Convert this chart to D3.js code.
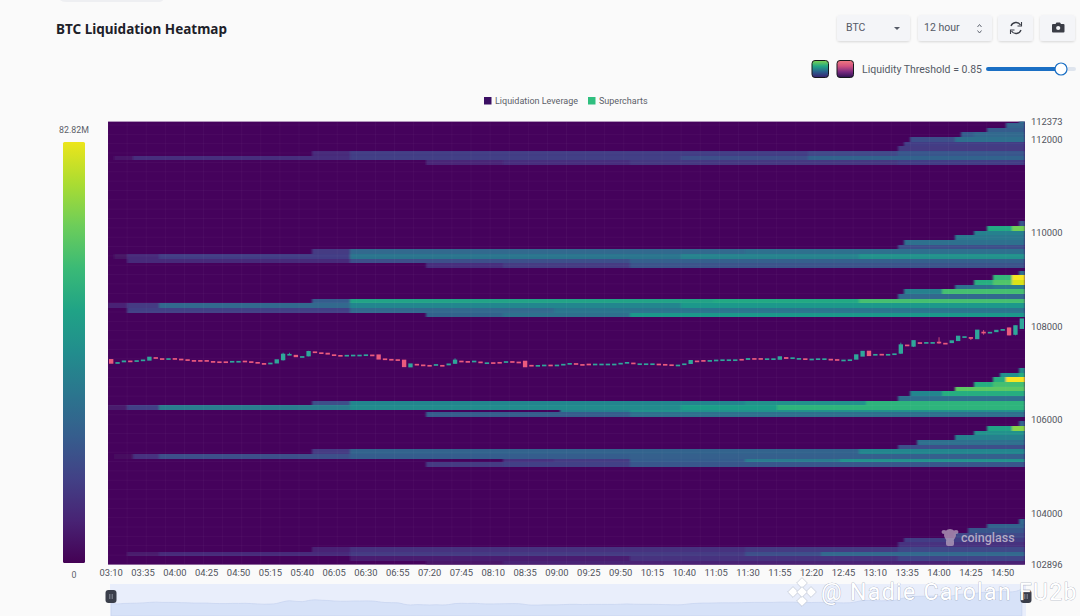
<html>
<head>
<meta charset="utf-8">
<style>
body { margin: 0; background: #fafafa; overflow: hidden; }
svg { display: block; font-family: Roboto, sans-serif; }
.tick text { font-family: Roboto, sans-serif; font-size: 9.4px; fill: #50535c; }
</style>
<script src="https://d3js.org/d3.v7.min.js"></script>
</head>
<body>
<svg id="chart" width="1080" height="616"></svg>
<script>
// tick labels
const xTickLabels = ["03:10","03:35","04:00","04:25","04:50","05:15","05:40","06:05","06:30","06:55","07:20","07:45","08:10","08:35","09:00","09:25","09:50","10:15","10:40","11:05","11:30","11:55","12:20","12:45","13:10","13:35","14:00","14:25","14:50"];
const yTickLabels = [112373,112000,110000,108000,106000,104000,102896];

// 5 min candles: mid price and signed body size (up > 0, down < 0)
const candleMid = [107237,107209,107237,107245,107252,107267,107295,107310,107295,107295,107295,107280,107273,107258,107258,107258,107237,107230,107230,107237,107237,107245,107230,107209,107194,107202,107237,107331,107387,107352,107337,107402,107438,107416,107402,107373,107359,107359,107373,107373,107380,107373,107331,107288,107280,107273,107194,107151,107172,107160,107151,107166,107151,107172,107230,107245,107237,107245,107224,107209,107209,107215,107224,107230,107224,107181,107145,107145,107160,107160,107160,107172,107187,107187,107172,107181,107181,107181,107181,107181,107194,107209,107194,107187,107187,107187,107181,107172,107166,107160,107181,107224,107245,107258,107258,107267,107273,107273,107273,107280,107288,107295,107295,107295,107295,107309,107309,107309,107301,107288,107288,107295,107295,107280,107273,107267,107273,107331,107401,107408,107386,107386,107386,107401,107502,107579,107622,107637,107643,107643,107643,107622,107658,107729,107765,107744,107814,107857,107857,107887,107921,107878,107908,108043];
const candleBody = [-100,25,40,-20,20,20,85,-35,-20,20,-25,-30,-20,-15,-15,-15,-15,-15,-15,20,20,-15,-20,-30,-15,15,90,140,20,-50,25,115,-25,-30,-40,-30,-30,35,15,15,15,-20,-110,-25,-20,-20,-160,85,-25,-20,-20,25,-20,40,90,-15,-15,15,-20,15,-20,-20,35,-25,-15,-140,-35,30,15,-15,15,25,30,-25,-15,-15,15,15,15,15,25,30,-35,15,15,15,-15,-20,-15,15,25,85,-20,-15,15,15,15,15,15,-20,40,-25,-25,15,15,75,-40,30,15,-30,15,15,15,-25,-25,15,15,115,125,-115,20,-25,20,15,200,-35,140,-20,15,15,-30,-25,60,115,20,-25,205,-30,25,50,15,-170,205,225];
// wicks: candle index, high, low
const candleWicks = [[27,107429,107260],[28,107429,107380],[31,107470,107350],[54,107309,107190],[124,107643,107400],[126,107686,107550],[130,107759,107620],[135,107760,107700],[137,107915,107814],[141,107965,107801],[142,108012,107800]];

// heatmap levels: lower price of the bin, then [first candle, value in M], value holds until next step
const levelsA = [
  [112343,[[143,30]]],
  [112243,[[141,26]]],
  [112143,[[138,24]]],
  [112043,[[134,24],[136,28]]],
  [111943,[[126,20],[133,30]]],
  [111843,[[125,15]]],
  [111743,[[124,14]]],
  [111643,[[32,10],[38,15],[110,18],[124,22]]],
  [111543,[[1,5],[4,11],[38,16],[90,20],[110,26]]],
  [111443,[[50,9],[62,11],[82,13],[124,15]]]
];
const levelsB = [
  [110143,[[143,22]]],
  [110043,[[138,50],[142,65]]],
  [109943,[[136,36]]],
  [109843,[[133,33]]],
  [109743,[[125,30]]],
  [109643,[[124,20]]],
  [109543,[[32,14],[38,28],[100,30]]],
  [109443,[[1,4],[3,10],[8,15],[38,32],[90,37],[118,42]]],
  [109343,[[3,10],[38,20],[82,25]]],
  [109243,[[50,11],[62,14],[82,21]]]
];
const levelsC = [
  [109085,[[143,30]]],
  [108985,[[139,55],[142,82]]],
  [108885,[[136,52],[139,60],[142,78]]],
  [108785,[[133,30],[139,34]]],
  [108685,[[125,36],[131,58]]],
  [108585,[[124,28]]],
  [108485,[[32,24],[38,48],[95,50],[118,58]]],
  [108385,[[0,8],[3,14],[8,28],[38,38],[90,44]]],
  [108285,[[3,16],[38,28],[70,32]]],
  [108185,[[50,26],[62,30],[82,44]]]
];
const levelsD = [
  [107004,[[143,40]]],
  [106904,[[140,42],[143,52]]],
  [106804,[[139,52],[141,82]]],
  [106704,[[136,52],[139,58]]],
  [106604,[[133,62]]],
  [106504,[[126,38],[131,52]]],
  [106404,[[124,30]]],
  [106304,[[32,20],[38,38],[100,42],[119,54]]],
  [106204,[[0,6],[3,16],[8,34],[38,40],[90,46],[105,54]]],
  [106104,[[71,36],[82,42]]],
  [106054,[[50,24],[82,30]]]
];
const levelsE = [
  [105862,[[143,26]]],
  [105762,[[138,48],[142,68]]],
  [105662,[[136,42]]],
  [105562,[[133,36]]],
  [105462,[[127,30]]],
  [105362,[[124,20]]],
  [105262,[[32,14],[38,26],[118,38]]],
  [105162,[[1,3],[4,12],[8,20],[38,24],[82,25]]],
  [105062,[[62,12],[70,14],[82,24],[100,34],[115,42]]],
  [104990,[[50,14],[62,16],[82,22]]]
];
const levelsF = [
  [103772,[[143,28]]],
  [103672,[[138,26]]],
  [103572,[[135,22]]],
  [103472,[[133,18]]],
  [103372,[[125,15]]],
  [103272,[[124,12]]],
  [103172,[[32,8],[38,12],[100,14],[124,18]]],
  [103072,[[3,6],[8,10],[38,14],[100,20],[112,28]]],
  [102972,[[38,7],[82,12],[124,17]]],
  [102872,[[50,5],[62,8]]]
];
const maxValue = 82.82;
const priceStep = 100;

const svg = d3.select("#chart");
const plot = {left: 108, right: 1025, top: 121.6, bottom: 564.6};

// every 5 minutes from 03:10
const fmt = d3.timeFormat("%H:%M");
const candleTimes = d3.range(candleMid.length).map(i => fmt(new Date(2025, 0, 1, 3, 10 + i * 5)));

const x = d3.scaleBand().domain(candleTimes).range([plot.left, plot.right]).padding(0);
const y = d3.scaleLinear().domain([102896, 112373]).range([plot.bottom, plot.top]);
const color = d3.scaleSequential(d3.interpolateViridis).domain([0, maxValue]);
const xEdge = i => i < candleTimes.length ? x(candleTimes[i]) : plot.right;

const defs = svg.append("defs");
defs.append("clipPath").attr("id", "plotClip").append("rect")
  .attr("x", plot.left).attr("y", plot.top)
  .attr("width", plot.right - plot.left).attr("height", plot.bottom - plot.top);

function gradient(id, stops) {
  const g = defs.append("linearGradient").attr("id", id).attr("x1", 0).attr("x2", 0).attr("y1", 0).attr("y2", 1);
  stops.forEach((s, i) => g.append("stop").attr("offset", i / (stops.length - 1)).attr("stop-color", s));
}
gradient("barGrad", d3.range(0, 1.001, 0.1).map(t => d3.interpolateViridis(0.97 * (1 - t))));
gradient("greenGrad", ["#7fd34e", "#22a884", "#2a5f8d", "#3b1f6e"]);
gradient("pinkGrad", ["#f07a80", "#d2527f", "#7a2a80", "#2c1250"]);
const soft = defs.append("filter").attr("id", "soft").attr("x", "-10%").attr("y", "-10%").attr("width", "120%").attr("height", "130%");
soft.append("feDropShadow").attr("dx", 0).attr("dy", 1).attr("stdDeviation", 1).attr("flood-color", "#000").attr("flood-opacity", 0.14);
defs.append("filter").attr("id", "blurCells").append("feGaussianBlur").attr("stdDeviation", "1 0.5");

// heatmap
svg.append("rect").attr("x", plot.left).attr("y", plot.top)
  .attr("width", plot.right - plot.left).attr("height", plot.bottom - plot.top)
  .attr("fill", "#45025c");

const allLevels = [].concat(levelsA, levelsB, levelsC, levelsD, levelsE, levelsF);
const cells = [];
allLevels.forEach(([price, steps]) => {
  steps.forEach(([start, value], i) => {
    const end = i + 1 < steps.length ? steps[i + 1][0] : candleTimes.length;
    cells.push({price, start, end, value});
  });
});
const heat = svg.append("g").attr("clip-path", "url(#plotClip)").append("g").attr("filter", "url(#blurCells)");
heat.selectAll("rect").data(cells).enter().append("rect")
  .attr("x", d => xEdge(d.start))
  .attr("width", d => xEdge(d.end) - xEdge(d.start))
  .attr("y", d => y(d.price + priceStep))
  .attr("height", d => y(d.price) - y(d.price + priceStep))
  .attr("fill", d => color(d.value))
  .attr("shape-rendering", "crispEdges");

// faint cell grid
const grid = svg.append("g").attr("clip-path", "url(#plotClip)").attr("stroke", "#fff").attr("stroke-opacity", 0.035);
grid.selectAll(".v").data(d3.range(0, candleTimes.length, 3)).enter().append("line")
  .attr("x1", d => xEdge(d)).attr("x2", d => xEdge(d)).attr("y1", plot.top).attr("y2", plot.bottom);
grid.selectAll(".h").data(d3.range(102900, 112400, 200)).enter().append("line")
  .attr("y1", d => y(d)).attr("y2", d => y(d)).attr("x1", plot.left).attr("x2", plot.right);

// candles
const upColor = "#2fa79a", downColor = "#ea5a7d";
const candles = svg.append("g");
candles.selectAll("line").data(candleWicks).enter().append("line")
  .attr("x1", d => x(candleTimes[d[0]]) + x.bandwidth() / 2)
  .attr("x2", d => x(candleTimes[d[0]]) + x.bandwidth() / 2)
  .attr("y1", d => y(d[1])).attr("y2", d => y(d[2]))
  .attr("stroke", d => candleBody[d[0]] > 0 ? upColor : downColor)
  .attr("stroke-width", 0.8);
candles.selectAll("rect").data(candleMid).enter().append("rect")
  .attr("x", (d, i) => x(candleTimes[i]) + 1)
  .attr("width", x.bandwidth() - 2)
  .attr("y", (d, i) => y(d + Math.abs(candleBody[i]) / 2) - 0.3)
  .attr("height", (d, i) => Math.max(1.7, y(d - Math.abs(candleBody[i]) / 2) - y(d + Math.abs(candleBody[i]) / 2)))
  .attr("fill", (d, i) => candleBody[i] > 0 ? upColor : downColor);

// coinglass mark
const mark = svg.append("g").attr("fill", "#b7a3bd").attr("opacity", 0.75);
mark.append("circle").attr("cx", 950).attr("cy", 535).attr("r", 6);
mark.append("ellipse").attr("cx", 944).attr("cy", 532).attr("rx", 2.5).attr("ry", 2);
mark.append("ellipse").attr("cx", 956).attr("cy", 532).attr("rx", 2.5).attr("ry", 2);
mark.append("rect").attr("x", 946).attr("y", 539).attr("width", 8).attr("height", 7).attr("rx", 2);
svg.append("text").attr("x", 961).attr("y", 542).attr("font-size", 12.5).attr("font-weight", 500)
  .attr("fill", "#c9bcd0").attr("fill-opacity", 0.85).text("coinglass");

// axes
const xAxis = svg.append("g").attr("transform", "translate(0," + plot.bottom + ")")
  .call(d3.axisBottom(x).tickValues(xTickLabels).tickSize(0).tickPadding(5));
xAxis.select(".domain").remove();
const yAxis = svg.append("g").attr("transform", "translate(" + plot.right + ",0)")
  .call(d3.axisRight(y).tickValues(yTickLabels).tickSize(0).tickPadding(6).tickFormat(d3.format("d")));
yAxis.select(".domain").remove();

// colour bar
svg.append("rect").attr("x", 63).attr("y", 142).attr("width", 22).attr("height", 421).attr("rx", 1.5)
  .attr("fill", "url(#barGrad)");
svg.append("text").attr("x", 74).attr("y", 133).attr("text-anchor", "middle").attr("font-size", 8.8).attr("fill", "#5c5f69").text(maxValue + "M");
svg.append("text").attr("x", 74).attr("y", 578).attr("text-anchor", "middle").attr("font-size", 8.8).attr("fill", "#5c5f69").text("0");

// title and legend
svg.append("text").attr("x", 56).attr("y", 33.5).attr("font-family", "'Noto Sans'").attr("font-size", 13.5).attr("font-weight", 700).attr("fill", "#1d2129").text("BTC Liquidation Heatmap");
svg.append("path").attr("d", "M60 0 Q62 2 66 2 H158 Q162 2 163 0 Z").attr("fill", "#eeeff2");
svg.append("rect").attr("x", 484).attr("y", 97).attr("width", 7.5).attr("height", 7.5).attr("fill", "#3b0f63");
svg.append("text").attr("x", 495).attr("y", 104).attr("font-size", 9).attr("fill", "#5c5f69").text("Liquidation Leverage");
svg.append("rect").attr("x", 588).attr("y", 97).attr("width", 7.5).attr("height", 7.5).attr("fill", "#2fbf7f");
svg.append("text").attr("x", 599).attr("y", 104).attr("font-size", 9).attr("fill", "#5c5f69").text("Supercharts");

// controls
function button(bx, w) {
  svg.append("rect").attr("x", bx).attr("y", 15).attr("width", w).attr("height", 26).attr("rx", 3)
    .attr("fill", "#f4f5f8").attr("filter", "url(#soft)");
}
button(837, 73); button(918, 74); button(998, 35); button(1040, 35);
svg.append("text").attr("x", 846).attr("y", 31).attr("font-size", 10.5).attr("fill", "#555a66").text("BTC");
svg.append("path").attr("d", "M894 27 h6 l-3 3 z").attr("fill", "#555a66");
svg.append("text").attr("x", 924).attr("y", 31).attr("font-size", 10.5).attr("fill", "#555a66").text("12 hour");
svg.append("path").attr("d", "M977.5 27 l2 -2.5 l2 2.5 M977.5 30.5 l2 2.5 l2 -2.5").attr("fill", "none").attr("stroke", "#555a66").attr("stroke-width", 0.9);
svg.append("path").attr("d", "M1011 26 a5.3 5.3 0 0 1 9.5 -1 M1021 30 a5.3 5.3 0 0 1 -9.5 1").attr("fill", "none").attr("stroke", "#3a3d46").attr("stroke-width", 1.3);
svg.append("path").attr("d", "M1021.5 22 v4 h-4 M1010.5 34 v-4 h4").attr("fill", "none").attr("stroke", "#3a3d46").attr("stroke-width", 1.1);
svg.append("path").attr("d", "M1053 24 h2.5 l1 -1.5 h3.5 l1 1.5 h2.5 a1 1 0 0 1 1 1 v6.5 a1 1 0 0 1 -1 1 h-10.5 a1 1 0 0 1 -1 -1 v-6.5 a1 1 0 0 1 1 -1 z").attr("fill", "#3a3d46");
svg.append("circle").attr("cx", 1058.2).attr("cy", 28).attr("r", 2.1).attr("fill", "#f4f5f8");
svg.append("rect").attr("x", 812).attr("y", 60.5).attr("width", 16.5).attr("height", 17).attr("rx", 3).attr("fill", "url(#greenGrad)").attr("stroke", "#16181d").attr("stroke-width", 1);
svg.append("rect").attr("x", 837).attr("y", 60.5).attr("width", 16.5).attr("height", 17).attr("rx", 3).attr("fill", "url(#pinkGrad)").attr("stroke", "#16181d").attr("stroke-width", 1);
svg.append("text").attr("x", 862).attr("y", 72.5).attr("font-size", 10.5).attr("fill", "#555a66").text("Liquidity Threshold = 0.85");
svg.append("rect").attr("x", 1060).attr("y", 67).attr("width", 16).attr("height", 4).attr("rx", 2).attr("fill", "#dfe5ee");
svg.append("rect").attr("x", 986).attr("y", 67).attr("width", 75).attr("height", 4).attr("rx", 2).attr("fill", "#1a6fc4");
svg.append("circle").attr("cx", 1061).attr("cy", 69).attr("r", 6).attr("fill", "#fff").attr("stroke", "#1a6fc4").attr("stroke-width", 1.2);

// range slider overview at the bottom
svg.append("rect").attr("x", 110).attr("y", 584).attr("width", 916).attr("height", 32).attr("fill", "#e9eefb");
const overviewY = d3.scaleLinear().domain([107150, 108043]).range([605, 589]);
const overview = d3.area()
  .x((d, i) => x(candleTimes[i]) + x.bandwidth() / 2)
  .y0(616).y1(d => overviewY(d)).curve(d3.curveMonotoneX);
svg.append("path").datum(candleMid).attr("d", overview).attr("fill", "#d7e2f8").attr("stroke", "#c6d3ef").attr("stroke-width", 0.7);
[111, 1026].forEach(hx => {
  svg.append("rect").attr("x", hx - 5.5).attr("y", 590).attr("width", 11).attr("height", 13).attr("rx", 3).attr("fill", "#3a3e4a");
  svg.append("path").attr("d", "M" + (hx - 1.2) + " 594 v5 M" + (hx + 1.2) + " 594 v5").attr("stroke", "#aab0bd").attr("stroke-width", 0.7);
});

// repost watermark
const logo = svg.append("g").attr("fill", "#fff").attr("stroke", "#aeb5c4").attr("stroke-width", 0.5);
[[802, 583], [793, 592], [811, 592], [802, 601], [802, 592]].forEach(([lx, ly]) => {
  logo.append("rect").attr("x", -3.8).attr("y", -3.8).attr("width", 7.6).attr("height", 7.6)
    .attr("transform", "translate(" + lx + "," + ly + ") rotate(45)");
});
svg.append("text").attr("x", 821).attr("y", 600).attr("font-family", "Roboto").attr("font-size", 23).attr("letter-spacing", 1.35)
  .attr("fill", "#fff").attr("stroke", "#8f98ab").attr("stroke-width", 0.55).attr("paint-order", "stroke")
  .text("@ Nadie Carolan FU2b");
</script>
</body>
</html>
